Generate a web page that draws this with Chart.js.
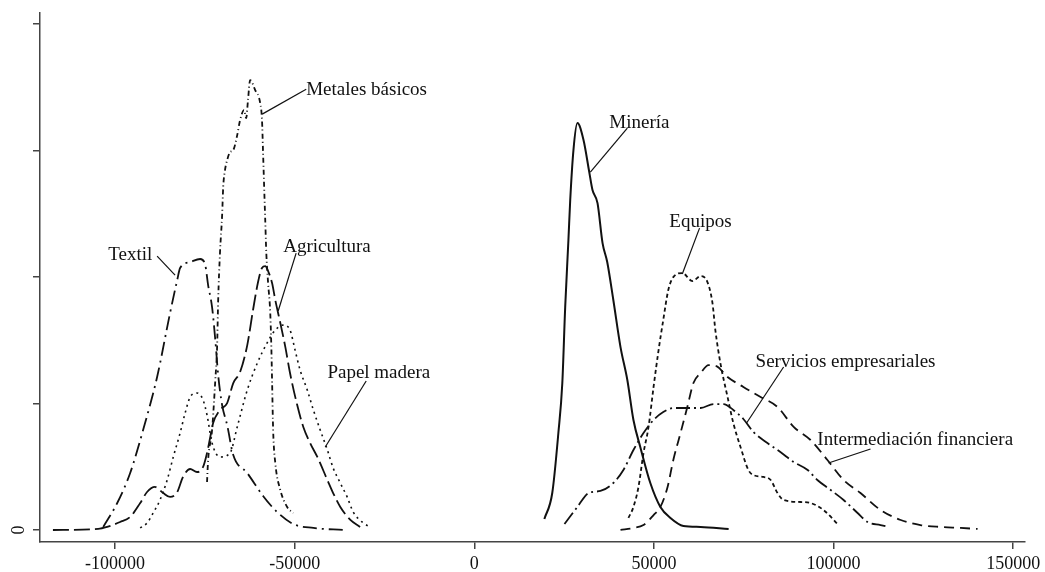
<!DOCTYPE html>
<html lang="es">
<head>
<meta charset="UTF-8">
<title>Densidades por sector</title>
<style>
  body { margin: 0; background: #fff; }
  .wrap { width: 1045px; height: 572px; position: relative; }
</style>
</head>
<body>
<div class="wrap"><canvas id="densidad"></canvas></div>
<script src="https://cdn.jsdelivr.net/npm/chart.js"></script>
<script>
// x values, density (in tick units)
const xTicks = [-100000, -50000, 0, 50000, 100000, 150000];
const yTicks = [0, 1, 2, 3, 4];

const textil = [
  [-103300, 0.024], [-99400, 0.213], [-95800, 0.45], [-92200, 0.79], [-88300, 1.209],
  [-84700, 1.714], [-82700, 1.975], [-81900, 2.07], [-79100, 2.117], [-76300, 2.141],
  [-74900, 2.093], [-74100, 1.935], [-73000, 1.761], [-72100, 1.501], [-71300, 1.224],
  [-70200, 0.987], [-68800, 0.829], [-67100, 0.592], [-63200, 0.45], [-58800, 0.269],
  [-54900, 0.142], [-50400, 0.047], [-44800, 0.016], [-36500, 0]
];
const metales = [
  [-74400, 0.379], [-74100, 0.553], [-73000, 0.79], [-72100, 1.185], [-71600, 1.445],
  [-71300, 1.817], [-70800, 2.188], [-70200, 2.488], [-69900, 2.709], [-69400, 2.844],
  [-68800, 2.923], [-68000, 2.986], [-67100, 3.002], [-66000, 3.12], [-65200, 3.239],
  [-64100, 3.318], [-63500, 3.254], [-63000, 3.397], [-62400, 3.555], [-61000, 3.476],
  [-59600, 3.373], [-59100, 3.239], [-58800, 2.978], [-58500, 2.709], [-58200, 2.449],
  [-57900, 2.188], [-57400, 1.951], [-56800, 1.714], [-56500, 1.445], [-56300, 1.185],
  [-56000, 0.79], [-55400, 0.529], [-54000, 0.316], [-52100, 0.182], [-50400, 0.134]
];
const agricultura = [
  [-117300, 0], [-104700, 0.008], [-102200, 0.024], [-98600, 0.063], [-95800, 0.103],
  [-93000, 0.213], [-91100, 0.3], [-88900, 0.34], [-86600, 0.292], [-84700, 0.261],
  [-82700, 0.3], [-81100, 0.419], [-79100, 0.482], [-77200, 0.458], [-75500, 0.498],
  [-74400, 0.608], [-73500, 0.735], [-72700, 0.845], [-70800, 0.948], [-68800, 1.003],
  [-67100, 1.161], [-65200, 1.248], [-63200, 1.461], [-61600, 1.738], [-60200, 1.959],
  [-59100, 2.07], [-58200, 2.085], [-57400, 2.046], [-56300, 1.951], [-55400, 1.817],
  [-54000, 1.635], [-52600, 1.445], [-51300, 1.24], [-49300, 0.987], [-47600, 0.814],
  [-45700, 0.687], [-43700, 0.577], [-40900, 0.395], [-39300, 0.292], [-37300, 0.182],
  [-34500, 0.079], [-31800, 0.024]
];
const papel = [
  [-93000, 0.016], [-91100, 0.055], [-89400, 0.134], [-87500, 0.237], [-85500, 0.395],
  [-83800, 0.577], [-81900, 0.766], [-80500, 0.924], [-79100, 1.051], [-77200, 1.082],
  [-75500, 1.027], [-74400, 0.908], [-73000, 0.687], [-70800, 0.577], [-68000, 0.608],
  [-66000, 0.814], [-63200, 1.106], [-60400, 1.319], [-57700, 1.477], [-55400, 1.58],
  [-53200, 1.619], [-51300, 1.58], [-49900, 1.422], [-48500, 1.264], [-46500, 1.106],
  [-44800, 0.948], [-42900, 0.79], [-40900, 0.632], [-39300, 0.49], [-37300, 0.371],
  [-35400, 0.261], [-33700, 0.142], [-30900, 0.055], [-29000, 0.024]
];
const mineria = [
  [19500, 0.087], [21700, 0.292], [23400, 0.766], [24500, 1.161], [25300, 1.761],
  [26200, 2.291], [26700, 2.607], [27600, 3.002], [28700, 3.215], [30400, 3.081],
  [32000, 2.828], [32900, 2.686], [34300, 2.583], [35700, 2.267], [37000, 2.117],
  [38700, 1.817], [40700, 1.445], [42600, 1.185], [44300, 0.869], [46200, 0.656],
  [49000, 0.371], [51800, 0.182], [54600, 0.095], [58200, 0.032], [63000, 0.024],
  [70800, 0.008]
];
const equipos = [
  [42900, 0.095], [44300, 0.182], [45700, 0.34], [47100, 0.608], [48500, 0.814],
  [49900, 1.13], [51300, 1.422], [52600, 1.659], [54000, 1.896], [55400, 1.998],
  [57900, 2.03], [60700, 1.967], [63000, 2.006], [64900, 1.959], [66300, 1.793],
  [67100, 1.58], [68500, 1.319], [70500, 1.051], [72100, 0.845], [74100, 0.656],
  [76300, 0.474], [77700, 0.434], [80500, 0.419], [82500, 0.395], [84400, 0.292],
  [86100, 0.237], [90800, 0.221], [93600, 0.213], [97200, 0.158], [101400, 0.039]
];
const servicios = [
  [25100, 0.047], [28700, 0.182], [31800, 0.292], [35100, 0.308], [38700, 0.371],
  [41500, 0.474], [44300, 0.632], [47100, 0.766], [49900, 0.869], [52600, 0.932],
  [55400, 0.964], [59300, 0.964], [63000, 0.964], [66600, 0.995], [69400, 0.995],
  [72100, 0.948], [74900, 0.877], [77700, 0.774], [81600, 0.687], [85200, 0.616],
  [88900, 0.537], [92800, 0.474], [95500, 0.395], [99200, 0.316], [102800, 0.237],
  [106700, 0.134], [109500, 0.063], [113100, 0.039], [115300, 0.024]
];
const intermediacion = [
  [40700, 0], [44300, 0.016], [47100, 0.039], [49900, 0.118], [51800, 0.182],
  [53800, 0.34], [55400, 0.553], [57400, 0.766], [59300, 0.972], [61000, 1.161],
  [63000, 1.24], [65200, 1.303], [67400, 1.295], [70500, 1.209], [74900, 1.13],
  [79700, 1.051], [84400, 0.972], [88900, 0.814], [93600, 0.711], [98300, 0.553],
  [102800, 0.395], [107500, 0.292], [113100, 0.158], [118700, 0.079], [124200, 0.039],
  [129800, 0.024], [135400, 0.016], [140100, 0.008]
];

// labels: text anchor (x, baseline y) and leader line (from curve to text)
const etiquetas = [
  { texto: 'Metales básicos', x: -46800, y: 3.436, desde: [-59050, 3.286], hasta: [-46800, 3.483] },
  { texto: 'Minería', x: 37600, y: 3.175, desde: [32300, 2.828], hasta: [42600, 3.175] },
  { texto: 'Equipos', x: 54300, y: 2.393, desde: [57900, 2.022], hasta: [62700, 2.385] },
  { texto: 'Textil', x: -101900, y: 2.133, desde: [-83300, 2.014], hasta: [-88300, 2.164] },
  { texto: 'Agricultura', x: -53200, y: 2.196, desde: [-54600, 1.73], hasta: [-49600, 2.188] },
  { texto: 'Papel madera', x: -40900, y: 1.201, desde: [-41500, 0.656], hasta: [-30100, 1.177] },
  { texto: 'Servicios empresariales', x: 78300, y: 1.288, desde: [75800, 0.845], hasta: [86100, 1.288] },
  { texto: 'Intermediación financiera', x: 95500, y: 0.671, desde: [98600, 0.529], hasta: [110300, 0.64] }
];

const serif = '"Liberation Serif", "Times New Roman", serif';
const ink = '#111';

function serie(nombre, puntos, dash, width) {
  return {
    label: nombre,
    data: puntos.map(p => ({ x: p[0], y: p[1] })),
    borderColor: ink,
    borderWidth: width || 1.8,
    borderDash: dash,
    pointRadius: 0,
    fill: false,
    cubicInterpolationMode: 'monotone'
  };
}

const etiquetasPlugin = {
  id: 'etiquetas',
  afterDatasetsDraw(chart) {
    const ctx = chart.ctx;
    const sx = chart.scales.x, sy = chart.scales.y;
    ctx.save();
    ctx.strokeStyle = ink;
    ctx.lineWidth = 1.2;
    ctx.setLineDash([]);
    etiquetas.forEach(e => {
      ctx.beginPath();
      ctx.moveTo(sx.getPixelForValue(e.desde[0]), sy.getPixelForValue(e.desde[1]));
      ctx.lineTo(sx.getPixelForValue(e.hasta[0]), sy.getPixelForValue(e.hasta[1]));
      ctx.stroke();
    });
    ctx.fillStyle = ink;
    ctx.font = '19px ' + serif;
    ctx.textBaseline = 'alphabetic';
    ctx.textAlign = 'left';
    etiquetas.forEach(e => {
      ctx.fillText(e.texto, sx.getPixelForValue(e.x), sy.getPixelForValue(e.y));
    });
    // rotated zero label on the y axis
    ctx.font = '18px ' + serif;
    ctx.translate(19, sy.getPixelForValue(0));
    ctx.rotate(-Math.PI / 2);
    ctx.textAlign = 'center';
    ctx.textBaseline = 'middle';
    ctx.fillText('0', 0, 0);
    ctx.restore();
  }
};

new Chart(document.getElementById('densidad'), {
  type: 'line',
  data: {
    datasets: [
      serie('Textil', textil, [14, 5, 2, 5]),
      serie('Metales básicos', metales, [5, 3, 1, 3]),
      serie('Agricultura', agricultura, [16, 5]),
      serie('Papel madera', papel, [2, 4], 1.6),
      serie('Minería', mineria, [], 2),
      serie('Equipos', equipos, [4, 3]),
      serie('Servicios empresariales', servicios, [14, 4, 2, 4]),
      serie('Intermediación financiera', intermediacion, [10, 6])
    ]
  },
  options: {
    responsive: true,
    maintainAspectRatio: false,
    animation: false,
    layout: { padding: { top: 13, right: 20, left: 0, bottom: 0 } },
    plugins: { legend: { display: false }, tooltip: { enabled: false } },
    scales: {
      x: {
        type: 'linear',
        min: -120900,
        max: 153300,
        afterBuildTicks: s => { s.ticks = xTicks.map(v => ({ value: v })); },
        afterFit: s => { s.height = 30; },
        grid: { drawOnChartArea: false, drawTicks: true, tickLength: 7, color: '#444', lineWidth: 1.5 },
        border: { display: true, color: '#444', width: 1.5 },
        ticks: {
          color: ink,
          padding: 4,
          maxRotation: 0,
          autoSkip: false,
          font: { family: serif, size: 18 },
          callback: v => String(v)
        }
      },
      y: {
        type: 'linear',
        min: -0.095,
        max: 4.085,
        afterBuildTicks: s => { s.ticks = yTicks.map(v => ({ value: v })); },
        afterFit: s => { s.width = 40; },
        grid: { drawOnChartArea: false, drawTicks: true, tickLength: 7, color: '#444', lineWidth: 1.5 },
        border: { display: true, color: '#444', width: 1.5 },
        ticks: { display: false }
      }
    }
  },
  plugins: [etiquetasPlugin]
});
</script>
</body>
</html>
